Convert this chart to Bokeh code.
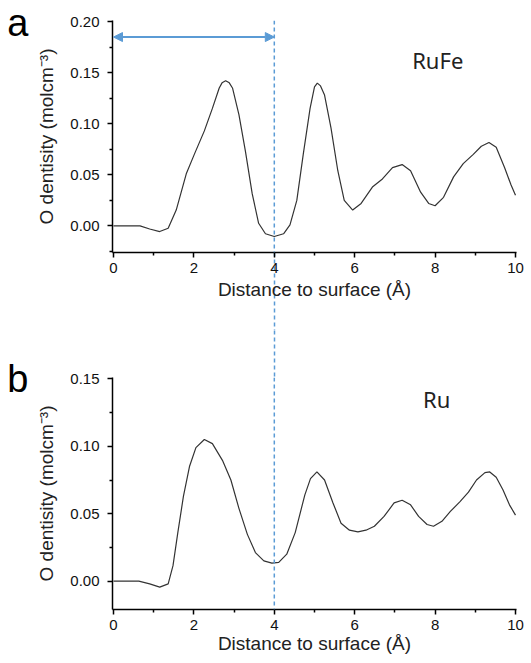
from bokeh.plotting import figure
from bokeh.models import (Range1d, FixedTicker, NumeralTickFormatter, Arrow,
                          NormalHead, Label, LinearAxis, Span)
from bokeh.layouts import column
from bokeh.embed import file_html
from bokeh.resources import INLINE

# ---------------- data ----------------
x_rufe = [0.0, 0.3, 0.66, 0.9, 1.15, 1.36, 1.56, 1.81, 2.01, 2.26, 2.46, 2.63,
          2.70, 2.79, 2.88, 2.96, 3.12, 3.28, 3.45, 3.61, 3.78, 4.0, 4.23, 4.39,
          4.56, 4.72, 4.89, 5.0, 5.07, 5.15, 5.25, 5.41, 5.58, 5.74, 5.95, 6.16,
          6.44, 6.69, 6.94, 7.18, 7.39, 7.64, 7.84, 8.0, 8.21, 8.46, 8.70, 8.95,
          9.15, 9.34, 9.52, 9.73, 9.89, 10.0]
y_rufe = [0.0, 0.0, 0.0, -0.003, -0.0055, -0.0023, 0.0155, 0.051, 0.070, 0.093,
          0.115, 0.135, 0.140, 0.142, 0.140, 0.135, 0.109, 0.0735, 0.0316,
          0.0026, -0.0077, -0.0103, -0.0077, 0.001, 0.025, 0.070, 0.115, 0.136,
          0.1397, 0.137, 0.128, 0.096, 0.054, 0.025, 0.0155, 0.022, 0.038, 0.046,
          0.057, 0.060, 0.054, 0.033, 0.022, 0.0197, 0.028, 0.048, 0.061, 0.070,
          0.078, 0.0816, 0.077, 0.057, 0.040, 0.030]

x_ru = [0.0, 0.3, 0.63, 0.9, 1.15, 1.36, 1.48, 1.60, 1.74, 1.89, 2.05, 2.26,
        2.46, 2.71, 2.92, 3.12, 3.33, 3.53, 3.74, 3.94, 4.11, 4.31, 4.52, 4.76,
        4.90, 5.06, 5.25, 5.46, 5.66, 5.87, 6.08, 6.28, 6.49, 6.73, 6.98, 7.18,
        7.39, 7.59, 7.80, 7.96, 8.17, 8.38, 8.62, 8.83, 9.03, 9.24, 9.36, 9.52,
        9.69, 9.85, 10.0]
y_ru = [0.0, 0.0, 0.0, -0.002, -0.0044, -0.002, 0.0115, 0.036, 0.063, 0.085,
        0.099, 0.105, 0.102, 0.0896, 0.075, 0.054, 0.0347, 0.0212, 0.0151,
        0.0134, 0.0139, 0.020, 0.036, 0.064, 0.076, 0.081, 0.075, 0.058, 0.043,
        0.0378, 0.0366, 0.0378, 0.0407, 0.048, 0.058, 0.060, 0.0566, 0.048,
        0.042, 0.0407, 0.0444, 0.0517, 0.059, 0.066, 0.075, 0.0805, 0.081,
        0.077, 0.0676, 0.0566, 0.049]

x_min, x_max = 0, 10
y_min_a, y_max_a = -0.025, 0.20
y_min_b, y_max_b = -0.02, 0.15
x_ticks = [0, 2, 4, 6, 8, 10]
x_minor = [1, 3, 5, 7, 9]
y_ticks_a = [0.0, 0.05, 0.10, 0.15, 0.20]
y_minor_a = [-0.025, 0.025, 0.075, 0.125, 0.175]
y_ticks_b = [0.0, 0.05, 0.10, 0.15]
y_minor_b = [0.025, 0.075, 0.125]

x_title = "Distance to surface (Å)"
y_title = "O dentisity (molcm⁻³)"
panel_a = "a"
panel_b = "b"
name_a = "RuFe"
name_b = "Ru"
marker_x = 4.0
arrow_y = 0.1848
letter_y_a = 0.199
letter_y_b = 0.15

# keep tick values strictly inside the ranges (about one pixel of slack)
X_PAD = 0.025
Y_PAD = 0.001

BLUE = "#5b9bd5"
TICK_FONT = "Liberation Sans"
TITLE_FONT = "Liberation Sans"


def bare_axis(ticks, **kw):
    ax = LinearAxis(ticker=FixedTicker(ticks=ticks, minor_ticks=[]),
                    axis_line_color=None, major_tick_line_color=None,
                    minor_tick_line_color=None, major_tick_out=0,
                    major_tick_in=0, minor_tick_out=0, minor_tick_in=0,
                    major_label_standoff=0, major_label_text_font_size="0px",
                    major_label_text_color=None)
    for k, v in kw.items():
        setattr(ax, k, v)
    return ax


def main_axis(ticks, minor, standoff, fmt=None):
    ax = LinearAxis(ticker=FixedTicker(ticks=ticks, minor_ticks=minor),
                    axis_line_width=1.5, axis_line_color="black",
                    major_tick_line_width=1.5, minor_tick_line_width=1.5,
                    major_tick_line_color="black", minor_tick_line_color="black",
                    major_tick_out=5, major_tick_in=0, minor_tick_out=3,
                    minor_tick_in=0, major_label_standoff=standoff,
                    major_label_text_font=TICK_FONT,
                    major_label_text_font_size="15px",
                    major_label_text_color="#111111")
    if fmt is not None:
        ax.formatter = fmt
    return ax


def title_axis(text, standoff):
    return bare_axis([], axis_label=text, axis_label_standoff=standoff,
                     axis_label_text_font=TITLE_FONT,
                     axis_label_text_font_size="19px",
                     axis_label_text_font_style="normal",
                     axis_label_text_color="#222222")


def letter_axis(y, text):
    return bare_axis([y], major_label_overrides={y: text},
                     major_label_standoff=4, major_label_text_font=TICK_FONT,
                     major_label_text_font_size="38px",
                     major_label_text_color="black")


def dashed_axis(tick_out, tick_in):
    return bare_axis([marker_x], major_tick_out=tick_out, major_tick_in=tick_in,
                     major_tick_line_color=BLUE, major_tick_line_width=1.5,
                     major_tick_line_dash="4 3")


def make_panel(height, top, bottom, ymin, ymax, yt, ym, letter, letter_y):
    p = figure(width=528, height=height, output_backend="svg",
               toolbar_location=None, x_axis_location=None, y_axis_location=None,
               x_range=Range1d(x_min - X_PAD, x_max + X_PAD),
               y_range=Range1d(ymin - Y_PAD, ymax + Y_PAD),
               min_border_left=112, min_border_right=12, min_border_top=top,
               min_border_bottom=bottom)
    p.xgrid.grid_line_color = None
    p.ygrid.grid_line_color = None
    p.outline_line_color = None
    p.add_layout(main_axis(yt, ym, 8, NumeralTickFormatter(format="0.00")), "left")
    p.add_layout(title_axis(y_title, 11), "left")
    p.add_layout(letter_axis(letter_y, letter), "left")
    p.add_layout(Span(location=marker_x, dimension="height", line_color=BLUE,
                      line_width=1.5, line_dash="4 3"))
    return p


# ---------------- panel a ----------------
pa = make_panel(330, 20, 78, y_min_a, y_max_a, y_ticks_a, y_minor_a,
                panel_a, letter_y_a)
pa.add_layout(dashed_axis(0, -110), "below")
pa.add_layout(main_axis(x_ticks, x_minor, 5), "below")
pa.add_layout(title_axis(x_title, 3), "below")
pa.line(x_rufe, y_rufe, line_color="#333333", line_width=1.2)
pa.add_layout(Arrow(start=NormalHead(size=9, fill_color=BLUE, line_color=BLUE),
                    end=NormalHead(size=9, fill_color=BLUE, line_color=BLUE),
                    x_start=x_min, y_start=arrow_y, x_end=marker_x, y_end=arrow_y,
                    line_color=BLUE, line_width=2))
pa.add_layout(Label(x=7.43, y=0.1619, text=name_a, text_font="Noto Sans",
                    text_font_size="22px", text_color="#222222",
                    text_baseline="alphabetic"))

# ---------------- panel b ----------------
pb = make_panel(331, 47, 52, y_min_b, y_max_b, y_ticks_b, y_minor_b,
                panel_b, letter_y_b)
pb.add_layout(dashed_axis(47, 0), "above")
pb.add_layout(main_axis(x_ticks, x_minor, 5), "below")
pb.add_layout(title_axis(x_title, 0), "below")
pb.line(x_ru, y_ru, line_color="#333333", line_width=1.2)
pb.add_layout(Label(x=7.70, y=0.1351, text=name_b, text_font="Noto Sans",
                    text_font_size="22px", text_color="#222222",
                    text_baseline="alphabetic"))

layout = column(pa, pb)
open("out.html", "w").write(file_html(layout, INLINE))
